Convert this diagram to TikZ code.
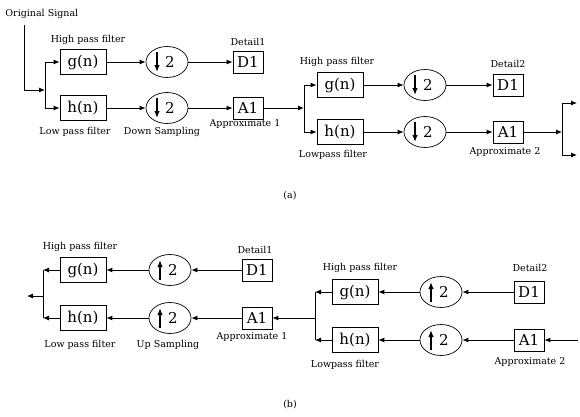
\documentclass[tikz,border=0pt]{standalone}
\usepackage{fontspec}
\setmainfont{DejaVu Serif}
\usetikzlibrary{shapes.geometric,arrows.meta}
\begin{document}
\begin{tikzpicture}[x=1pt,y=-1pt,>={Latex[length=6pt,width=5pt]},line width=0.9pt,
    filt/.style={draw,line width=0.7pt,minimum width=46pt,minimum height=25pt,inner sep=0pt,font=\fontsize{15}{15}\selectfont},
    resbox/.style={filt,minimum width=30pt,minimum height=22pt},
    samp/.style={draw,ellipse,line width=0.7pt,minimum width=42pt,minimum height=31pt,inner sep=0pt,font=\fontsize{15}{15}\selectfont},
    lbl/.style={font=\fontsize{9.5}{10}\selectfont,inner sep=0pt},
    sarrow/.style={->,>={Latex[length=7pt,width=5.5pt]},line width=1.3pt}]
    \useasboundingbox (0,0) rectangle (580,416);
    %% (a) decomposition, level 1
    \node[lbl,anchor=west] (orig) at (5,14) {Original Signal};
    \coordinate (ja) at (45,90);
    \node[filt] (ga) at (83,62) {g(n)};
    \node[filt] (ha) at (83,108) {h(n)};
    \node[samp] (sa) at (167,62) {\hspace{6pt}2};
    \node[samp] (sb) at (167,108) {\hspace{6pt}2};
    \node[resbox] (da) at (248,62) {D1};
    \node[resbox] (aa) at (248,108) {A1};
    \node[lbl] (hpa) at (88,40) {High pass filter};
    \node[lbl] (lpa) at (75,132) {Low pass filter};
    \node[lbl] (dsa) at (162,132) {Down Sampling};
    \node[lbl] (dta) at (248,42) {Detail1};
    \node[lbl] (apa) at (245,124) {Approximate 1};
    \draw[->] ([xshift=19pt,yshift=-6pt]orig.south west) |- (ja);
    \draw[->] (ja) |- (ga);
    \draw[->] (ja) |- (ha);
    \draw[->] (ga) -- (sa);
    \draw[->] (sa) -- (da);
    \draw[->] (ha) -- (sb);
    \draw[->] (sb) -- (aa);
    %% (a) decomposition, level 2
    \coordinate (jb) at (304,108);
    \node[filt] (gb) at (340,85) {g(n)};
    \node[filt] (hb) at (340,132) {h(n)};
    \node[samp] (sc) at (425,85) {\hspace{6pt}2};
    \node[samp] (sd) at (425,132) {\hspace{6pt}2};
    \node[resbox] (db) at (508,85) {D1};
    \node[resbox] (ab) at (508,132) {A1};
    \coordinate (jc) at (562,132);
    \coordinate (oa1) at (577,103);
    \coordinate (oa2) at (577,155);
    \node[lbl] (hpb) at (337,62) {High pass filter};
    \node[lbl] (lpb) at (333,155) {Lowpass filter};
    \node[lbl] (dtb) at (508,64) {Detail2};
    \node[lbl] (apb) at (505,152) {Approximate 2};
    \draw[->] (aa) -- (jb);
    \draw[->] (jb) |- (gb);
    \draw[->] (jb) |- (hb);
    \draw[->] (gb) -- (sc);
    \draw[->] (sc) -- (db);
    \draw[->] (hb) -- (sd);
    \draw[->] (sd) -- (ab);
    \draw[->] (ab) -- (jc);
    \draw (oa1 -| jc) -- (oa2 -| jc);
    \draw[->] (oa1 -| jc) -- (oa1);
    \draw[->] (oa2 -| jc) -- (oa2);
    \foreach \s in {sa,sb,sc,sd}
        \draw[sarrow] ([shift={(-10pt,10pt)}]\s.center) -- ([shift={(-10pt,-10pt)}]\s.center);
    \node[lbl] (capa) at (290,196) {(a)};
    %% (b) reconstruction, level 1
    \coordinate (jd) at (43,296);
    \coordinate (ob) at (27,296);
    \node[filt] (gc) at (83,270) {g(n)};
    \node[filt] (hc) at (83,318) {h(n)};
    \node[samp] (se) at (170,270) {\hspace{6pt}2};
    \node[samp] (sf) at (170,318) {\hspace{6pt}2};
    \node[resbox] (dc) at (257,270) {D1};
    \node[resbox] (ac) at (257,318) {A1};
    \node[lbl] (hpc) at (80,247) {High pass filter};
    \node[lbl] (lpc) at (80,345) {Low pass filter};
    \node[lbl] (usc) at (168,345) {Up Sampling};
    \node[lbl] (dtc) at (255,250) {Detail1};
    \node[lbl] (apc) at (252,337) {Approximate 1};
    \draw[->] (dc) -- (se);
    \draw[->] (se) -- (gc);
    \draw[->] (ac) -- (sf);
    \draw[->] (sf) -- (hc);
    \draw[->] (gc) -- (gc -| jd);
    \draw[->] (hc) -- (hc -| jd);
    \draw (gc -| jd) -- (hc -| jd);
    \draw[->] (jd) -- (ob);
    %% (b) reconstruction, level 2
    \coordinate (je) at (315,318);
    \coordinate (inb) at (578,340);
    \node[filt] (gd) at (355,292) {g(n)};
    \node[filt] (hd) at (355,340) {h(n)};
    \node[samp] (sg) at (441,292) {\hspace{6pt}2};
    \node[samp] (sh) at (441,340) {\hspace{6pt}2};
    \node[resbox] (dd) at (529,292) {D1};
    \node[resbox] (ad) at (529,340) {A1};
    \node[lbl] (hpd) at (360,268) {High pass filter};
    \node[lbl] (lpd) at (345,365) {Lowpass filter};
    \node[lbl] (dtd) at (530,268) {Detail2};
    \node[lbl] (apd) at (530,362) {Approximate 2};
    \draw[->] (inb) -- (ad);
    \draw[->] (dd) -- (sg);
    \draw[->] (sg) -- (gd);
    \draw[->] (ad) -- (sh);
    \draw[->] (sh) -- (hd);
    \draw[->] (gd) -- (gd -| je);
    \draw[->] (hd) -- (hd -| je);
    \draw (gd -| je) -- (hd -| je);
    \draw[->] (je) -- (ac);
    \foreach \s in {se,sf,sg,sh}
        \draw[sarrow] ([shift={(-10pt,-10pt)}]\s.center) -- ([shift={(-10pt,10pt)}]\s.center);
    \node[lbl] (capb) at (290,405) {(b)};
\end{tikzpicture}
\end{document}
